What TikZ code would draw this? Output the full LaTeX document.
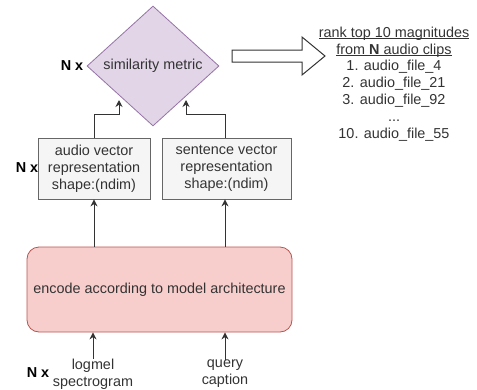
\documentclass[tikz,border=0pt]{standalone}
\usepackage{fontspec}
\setmainfont{Liberation Sans}
\usetikzlibrary{shapes.geometric,arrows.meta}
\definecolor{simfill}{HTML}{E1D5E7}
\definecolor{simline}{HTML}{9673A6}
\definecolor{boxfill}{HTML}{F5F5F5}
\definecolor{boxline}{HTML}{666666}
\definecolor{encfill}{HTML}{F8CECC}
\definecolor{encline}{HTML}{B85450}
\definecolor{txt}{HTML}{333333}
\newsavebox{\ulbox}
\newcommand{\ultext}[1]{\sbox{\ulbox}{#1}\rlap{\rule[-1.8pt]{\wd\ulbox}{0.7pt}}\usebox{\ulbox}}
\begin{document}
\begin{tikzpicture}[x=1pt,y=-1pt,
    every node/.style={font=\fontsize{14.4}{16.8}\selectfont,text=txt},
    vecbox/.style={draw=boxline,fill=boxfill,line width=0.8pt,minimum height=61pt,align=center,inner sep=0pt},
    nlabel/.style={font=\fontsize{14.4}{16.8}\selectfont\bfseries,text=black},
    flow/.style={-{Stealth[length=7pt,width=7pt]},line width=1pt,draw=txt}]
      \useasboundingbox (0,0) rectangle (477,389);
      \draw
        (153,66) node[diamond,draw=simline,fill=simfill,line width=0.8pt,aspect=1.1,minimum width=132pt,minimum height=120pt,inner sep=0pt] (sim){similarity metric}
        (94,168.5) node[vecbox,minimum width=112pt] (audio){audio vector\\representation\\shape:(ndim)}
        (226.5,168.5) node[vecbox,minimum width=129pt] (sent){sentence vector\\representation\\shape:(ndim)}
        (159.5,289.5) node[draw=encline,fill=encfill,line width=0.8pt,rounded corners=12pt,minimum width=265pt,minimum height=85pt] (enc){encode according to model architecture}
        (93,374) node[align=center,inner sep=0pt] (logmel){logmel\\spectrogram}
        (225,374) node[align=center,inner sep=0pt] (query){query\\caption}
        (394,84) node[align=center,inner sep=0pt] (rank){\ultext{rank top 10 magnitudes}\\\ultext{from \textbf{N} audio clips}\\1. audio\_file\_4\\2. audio\_file\_21\\3. audio\_file\_92\\...\\10. audio\_file\_55}
        (72,66) node[nlabel] (nsim){N x}
        (27,168) node[nlabel] (naudio){N x}
        (38,373) node[nlabel] (ninput){N x};
      \draw[line width=1pt,draw=txt] (232,50) -- (302,50) -- (302,37) -- (325,56) -- (302,75) -- (302,62) -- (232,62) -- cycle;
      \begin{scope}[flow]
        \draw (logmel.north) -- (logmel.north |- enc.south);
        \draw (query.north) -- (query.north |- enc.south);
        \draw (enc.north -| audio.south) -- (audio.south);
        \draw (enc.north -| 225,0) -- (sent.south -| 225,0);
        \draw (audio.north) -- ++(0,-23) -| (119,100);
        \draw (sent.north -| 225,0) -- ++(0,-23) -| (186,100);
      \end{scope}
    \end{tikzpicture}
\end{document}
